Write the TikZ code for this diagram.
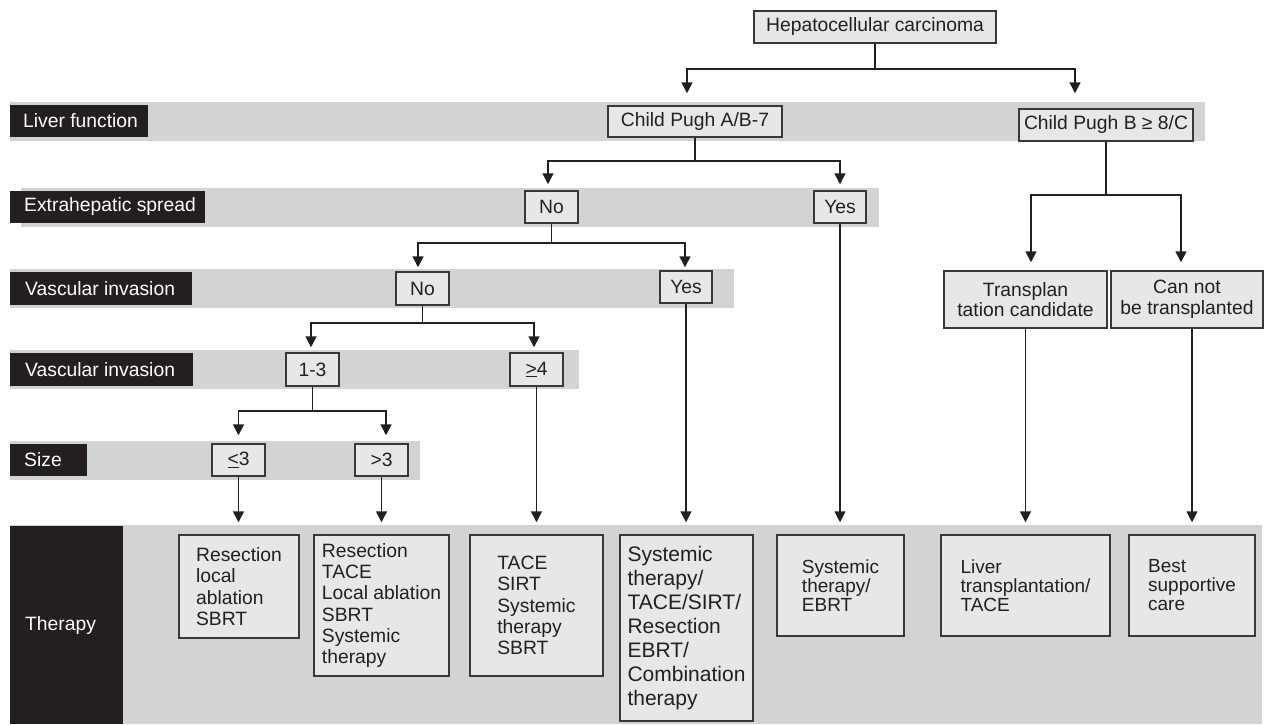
\documentclass[tikz,border=0pt]{standalone}
\usepackage{fontspec}
\setmainfont{Liberation Sans}
\usetikzlibrary{arrows.meta}
\definecolor{band}{HTML}{D1D3D4}
\definecolor{boxfill}{HTML}{E6E7E8}
\definecolor{boxline}{HTML}{383838}
\definecolor{ink}{HTML}{231F20}
\begin{document}
\begin{tikzpicture}[x=1pt,y=-1pt,
  every node/.style={font=\fontsize{19.3}{21}\selectfont, text=ink},
  hb/.style={draw=boxline, fill=boxfill, line width=1.5pt, inner sep=0pt, align=center},
  tb/.style={hb, align=left},
  lbl/.style={fill=ink, text=white, inner sep=0pt, anchor=west},
  con/.style={draw=ink, line width=1.6pt},
  arr/.style={con, -{Triangle[width=11pt,length=11pt]}},
  tbig/.style={font=\fontsize{21}{24}\selectfont},
  tmid/.style={font=\fontsize{19.3}{21.3}\selectfont},
  ttight/.style={font=\fontsize{19}{19}\selectfont},
]
\useasboundingbox (0,0) rectangle (1264,724);
% bands
\fill[band] (10,102) rectangle (1205,141);
\fill[band] (21,188) rectangle (879,227);
\fill[band] (10,269) rectangle (734,308);
\fill[band] (10,350) rectangle (579,389);
\fill[band] (10,441) rectangle (420,480);
\fill[band] (10,525) rectangle (1262,724);
% row labels
\node[lbl, minimum height=32pt] (lLiver) at (10,121) {\makebox[138pt][l]{\hspace*{13pt}Liver function}};
\node[lbl, minimum height=32pt] (lExtra) at (10,207) {\makebox[195pt][l]{\hspace*{14pt}Extrahepatic spread}};
\node[lbl, minimum height=33pt] (lVasc) at (10,288.5) {\makebox[182pt][l]{\hspace*{15pt}Vascular invasion}};
\node[lbl, minimum height=33pt] (lVascB) at (10,369.5) {\makebox[183pt][l]{\hspace*{15pt}Vascular invasion}};
\node[lbl, minimum height=32pt] (lSize) at (10,460) {\makebox[77pt][l]{\hspace*{14pt}Size}};
\node[lbl, minimum height=198pt] (lTher) at (10,625) {\makebox[113pt][l]{\hspace*{15pt}Therapy}};
% decision boxes
\node[hb, minimum width=242pt, minimum height=32pt] (hcc) at (875,27) {Hepatocellular carcinoma};
\node[hb, minimum width=174pt, minimum height=31pt] (cpa) at (695,121.5) {Child Pugh A/B-7};
\node[hb, minimum width=174pt, minimum height=32pt] (cpb) at (1106,125) {Child Pugh B ≥ 8/C};
\node[hb, minimum width=53pt, minimum height=32pt] (no1) at (551.5,207) {No};
\node[hb, minimum width=52pt, minimum height=32pt] (yes1) at (840,207) {Yes};
\node[hb, minimum width=53pt, minimum height=33pt] (no2) at (422.5,288.5) {No};
\node[hb, minimum width=52pt, minimum height=32pt] (yes2) at (686,287) {Yes};
\node[hb, minimum width=53pt, minimum height=33pt] (n13) at (312.5,369.5) {1-3};
\node[hb, minimum width=53pt, minimum height=33pt] (ge4) at (536.5,369.5) {\underline{>}4};
\node[hb, minimum width=53pt, minimum height=32pt] (le3) at (238.5,460) {\underline{<}3};
\node[hb, minimum width=53pt, minimum height=32pt] (gt3) at (381.5,460) {>3};
\node[hb, minimum width=163pt, minimum height=57pt, font=\fontsize{19.3}{20.5}\selectfont] (tc) at (1025.5,299.5) {Transplan\\tation candidate};
\node[hb, minimum width=152pt, minimum height=57pt, font=\fontsize{19.3}{20.5}\selectfont] (cnt) at (1187,299.5) {Can not\\be transplanted};
% therapy boxes
\node[tb, tmid, minimum width=120pt, minimum height=103pt] (T1) at (239,586.5) {Resection\\local\\ablation\\SBRT};
\node[tb, tmid, minimum width=135pt, minimum height=141pt] (T2) at (381.5,605.5) {Resection\\TACE\\Local ablation\\SBRT\\Systemic\\therapy};
\node[tb, tmid, minimum width=133pt, minimum height=141pt] (T3) at (536.5,605.5) {TACE\\SIRT\\Systemic\\therapy\\SBRT};
\node[tb, tbig, minimum width=133pt, minimum height=186pt] (T4) at (686.5,628) {Systemic\\therapy/\\TACE/SIRT/\\Resection\\EBRT/\\Combination\\therapy};
\node[tb, ttight, minimum width=127pt, minimum height=101pt] (T5) at (840.5,585.5) {Systemic\\therapy/\\EBRT};
\node[tb, ttight, minimum width=169pt, minimum height=101pt] (T6) at (1025.5,585.5) {Liver\\transplantation/\\TACE};
\node[tb, ttight, minimum width=126pt, minimum height=101pt] (T7) at (1192,585.5) {Best\\supportive\\care};
% connectors
\draw[con] (hcc.south) -- ++(0,25) coordinate (j0);
\draw[arr, shorten >=12pt] (j0) -| ([xshift=-8pt]cpa.north);
\draw[arr, shorten >=15pt] (j0) -| ([xshift=-31pt]cpb.north);
\draw[con] (cpa.south) -- ++(0,23) coordinate (j1);
\draw[arr, shorten >=6pt] (j1) -| ([xshift=-3.5pt]no1.north);
\draw[arr, shorten >=6pt] (j1) -| (yes1.north);
\draw[con] (no1.south) -- ++(0,19) coordinate (j2);
\draw[arr, shorten >=4pt] (j2) -| ([xshift=-4.5pt]no2.north);
\draw[arr, shorten >=3pt] (j2) -| ([xshift=-1pt]yes2.north);
\draw[con] (no2.south) -- ++(0,17) coordinate (j3);
\draw[arr, shorten >=5pt] (j3) -| ([xshift=-1.5pt]n13.north);
\draw[arr, shorten >=5pt] (j3) -| ([xshift=-2.5pt]ge4.north);
\draw[con] (n13.south) -- ++(0,24) coordinate (j4);
\draw[arr, shorten >=8pt] (j4) -| (le3.north);
\draw[arr, shorten >=8pt] (j4) -| ([xshift=4.5pt]gt3.north);
\draw[con] (cpb.south) -- ++(0,53) coordinate (j5);
\draw[arr, shorten >=8pt] (j5) -| ([xshift=5.5pt]tc.north);
\draw[arr, shorten >=8pt] (j5) -| ([xshift=-6pt]cnt.north);
\draw[arr, shorten >=12pt] (le3.south) -- (le3.south |- T1.north);
\draw[arr, shorten >=12pt] (gt3.south) -- (gt3.south |- T2.north);
\draw[arr, shorten >=12pt] (ge4.south) -- (ge4.south |- T3.north);
\draw[arr, shorten >=12pt] (yes2.south) -- (yes2.south |- T4.north);
\draw[arr, shorten >=12pt] (yes1.south) -- (yes1.south |- T5.north);
\draw[arr, shorten >=12pt] (tc.south) -- (tc.south |- T6.north);
\draw[arr, shorten >=12pt] ([xshift=5pt]cnt.south) -- ([xshift=5pt]cnt.south |- T7.north);
\end{tikzpicture}
\end{document}
